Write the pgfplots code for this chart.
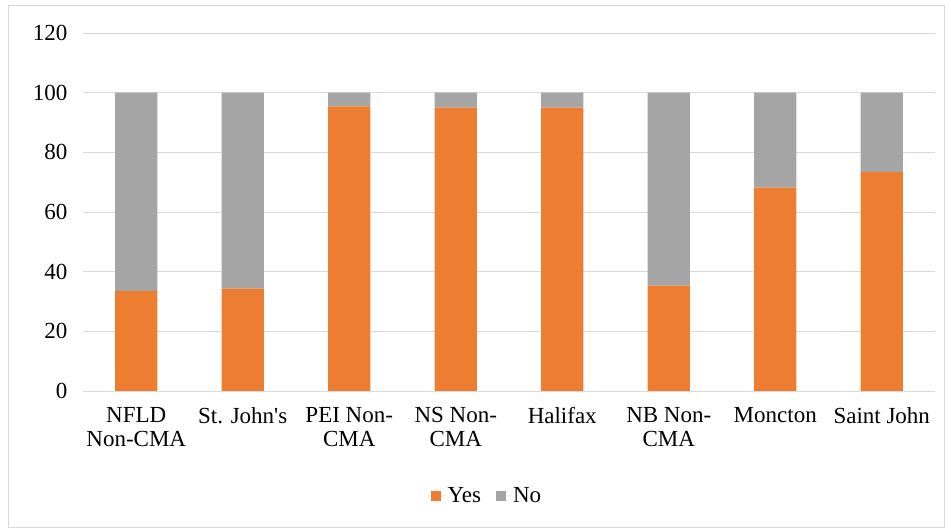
\documentclass[border=0pt]{standalone}
\usepackage{pgfplots}
\pgfplotsset{compat=1.18}
\usepackage{fontspec}
\setmainfont[Ligatures=TeXOff]{Liberation Serif}
\definecolor{cyes}{HTML}{ED7D31}
\definecolor{cno}{HTML}{A5A5A5}
\definecolor{cgrid}{HTML}{D9D9D9}
\begin{document}
\begin{tikzpicture}
\useasboundingbox (0bp,0bp) rectangle (951bp,531bp);
\draw[cgrid, line width=0.8bp] (8bp,4bp) rectangle (944bp,526bp);
\begin{axis}[
  at={(83bp,140bp)}, anchor=south west,
  scale only axis, width=852bp, height=358bp,
  ybar stacked, bar width=0.395,
  xmin=-0.5, xmax=7.5, ymin=0, ymax=120,
  ytick={0,20,...,120},
  xtick={0,...,7},
  xticklabels={NFLD\\Non-CMA, St. John's, PEI Non-\\CMA, NS Non-\\CMA, Halifax, NB Non-\\CMA, Moncton, Saint John},
  xticklabel style={align=center, yshift=-13bp},
  yticklabel style={xshift=-12bp},
  major tick length=0pt,
  ymajorgrids, grid style={cgrid, line width=0.9bp},
  axis x line*=bottom, axis y line*=left,
  axis line style={cgrid, line width=0.9bp, -},
  y axis line style={draw=none},
  font=\fontsize{23bp}{24bp}\selectfont,
  /pgf/number format/assume math mode=true,
  legend style={at={(0.474,-0.292)}, anchor=center, draw=none, legend columns=2,
    font=\fontsize{23bp}{24bp}\selectfont,
    /tikz/every even column/.append style={column sep=13bp}},
  legend image code/.code={\fill[#1] (0bp,-5bp) rectangle (10bp,5bp); \path (0bp,0bp) -- (15bp,0bp);},
]
\addplot[fill=cyes, draw=none] coordinates {(0,33.6) (1,34.3) (2,95.4) (3,95.0) (4,95.0) (5,35.3) (6,68.2) (7,73.4)};
\addplot[fill=cno, draw=none] coordinates {(0,66.4) (1,65.7) (2,4.6) (3,5.0) (4,5.0) (5,64.7) (6,31.8) (7,26.6)};
\legend{Yes, No}
\end{axis}
\end{tikzpicture}
\end{document}
